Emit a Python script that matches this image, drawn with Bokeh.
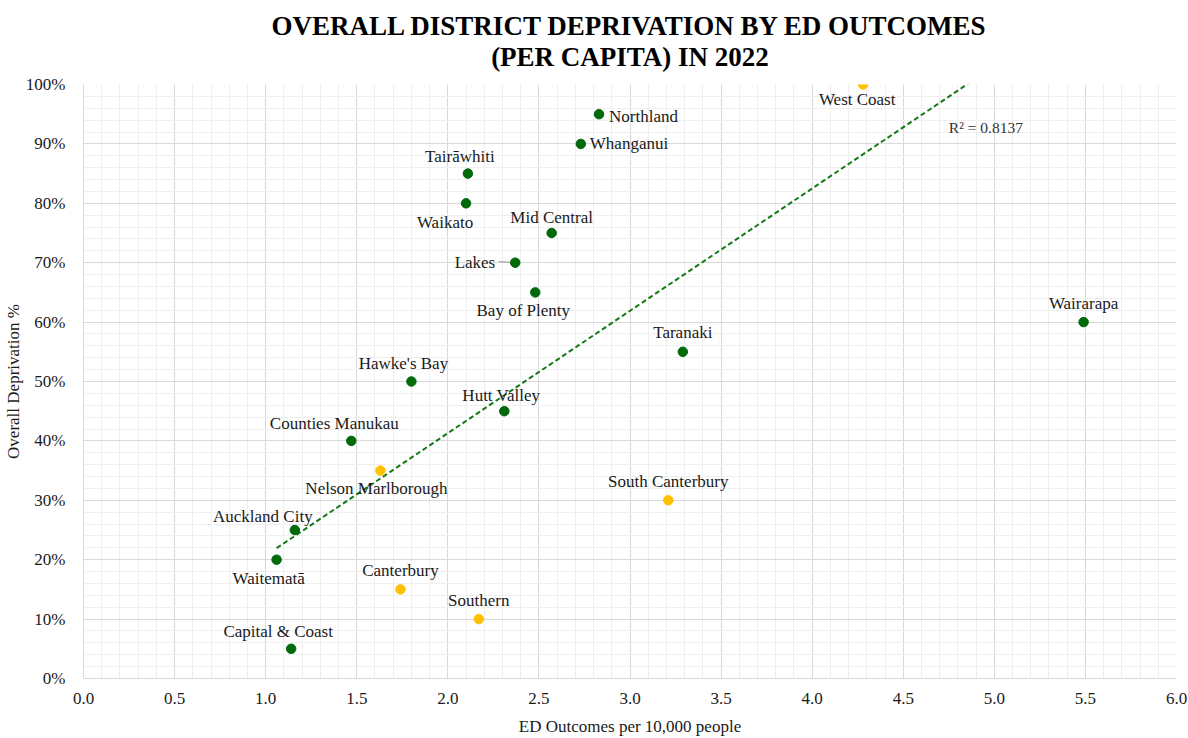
from bokeh.plotting import figure
from bokeh.models import (SingleIntervalTicker, PrintfTickFormatter, ColumnDataSource,
                          Label, Range1d, Title)
from bokeh.core.properties import value
from bokeh.embed import file_html
from bokeh.resources import INLINE

# ---------------- data ----------------
districts = ["West Coast", "Northland", "Whanganui", "Tairāwhiti", "Waikato",
             "Mid Central", "Lakes", "Bay of Plenty", "Wairarapa", "Taranaki",
             "Hawke's Bay", "Hutt Valley", "Counties Manukau", "Nelson Marlborough",
             "South Canterbury", "Auckland City", "Waitematā", "Canterbury",
             "Southern", "Capital & Coast"]
ed_outcomes = [4.28, 2.83, 2.73, 2.11, 2.10, 2.57, 2.37, 2.48, 5.49, 3.29,
               1.80, 2.31, 1.47, 1.63, 3.21, 1.16, 1.06, 1.74, 2.17, 1.14]
deprivation = [100, 95, 90, 85, 80, 75, 70, 65, 60, 55,
               50, 45, 40, 35, 30, 25, 20, 15, 10, 5]
highlighted = [True, False, False, False, False, False, False, False, False, False,
               False, False, False, True, True, False, False, True, True, False]

trend_slope = 20.6
trend_intercept = 0.1
r_squared_text = "R² = 0.8137"

title_line1 = "OVERALL DISTRICT DEPRIVATION BY ED OUTCOMES"
title_line2 = "(PER CAPITA) IN 2022"
x_title = "ED Outcomes per 10,000 people"
y_title = "Overall Deprivation %"

x_ticks_interval = 0.5
y_ticks_interval = 10

# ---------------- label placement (screen px) ----------------
label_dx = [-6, 10, 9, -8, -21, 0, -20, -12, 0, 0,
            -8, -3, -17, -4, 0, -32, -8, 0, 0, -13]
label_dy = [15, 2, 0, -17, 19, -16, 0, 18, -19, -19,
            -18, -16, -17, 18, -19, -14, 19, -19, -19, -17]
label_align = ["center", "left", "left", "center", "center", "center", "right",
               "center", "center", "center", "center", "center", "center", "center",
               "center", "center", "center", "center", "center", "center"]

GREEN = "#006a0a"
GOLD = "#FFC000"
SERIF = "Liberation Serif"
TXT = "#1a1a1a"

colors = [GOLD if h else GREEN for h in highlighted]

src = ColumnDataSource(dict(x=ed_outcomes, y=deprivation, name=districts,
                            color=colors, dx=label_dx, dy=label_dy, align=label_align))

p = figure(width=1188, height=738, output_backend="svg", toolbar_location=None,
           title=None,
           x_range=Range1d(0, 6), y_range=Range1d(0, 100),
           min_border_left=82, min_border_right=12, min_border_top=84,
           min_border_bottom=59)

t2 = Title(text=title_line2, align="center", text_font=SERIF, text_font_size="27px",
           text_font_style="bold", text_color="#000000", standoff=26)
t1 = Title(text=title_line1, align="center", text_font=SERIF, text_font_size="27px",
           text_font_style="bold", text_color="#000000", standoff=-28)
p.add_layout(t2, "above")
p.add_layout(t1, "above")

p.outline_line_color = None
p.background_fill_color = "white"
p.border_fill_color = "white"

xt = SingleIntervalTicker(interval=x_ticks_interval, num_minor_ticks=5)
yt = SingleIntervalTicker(interval=y_ticks_interval, num_minor_ticks=5)
p.xaxis.ticker = xt
p.yaxis.ticker = yt
p.xgrid.ticker = xt
p.ygrid.ticker = yt
p.xaxis.formatter = PrintfTickFormatter(format="%.1f")
p.yaxis.formatter = PrintfTickFormatter(format="%d%%")

for g in (p.xgrid, p.ygrid):
    g.grid_line_color = "#d9d9d9"
    g.grid_line_width = 1
    g.minor_grid_line_color = "#efefef"
    g.minor_grid_line_width = 1

for ax in (p.xaxis, p.yaxis):
    ax.axis_line_color = "#d9d9d9"
    ax.major_tick_line_color = None
    ax.minor_tick_line_color = None
    ax.major_label_text_font = SERIF
    ax.major_label_text_font_size = "17px"
    ax.major_label_text_color = TXT
    ax.axis_label_text_font = SERIF
    ax.axis_label_text_font_size = "17px"
    ax.axis_label_text_font_style = "normal"
    ax.axis_label_text_color = TXT

p.xaxis.axis_label = x_title
p.yaxis.axis_label = y_title
p.xaxis.major_label_standoff = 8
p.yaxis.major_label_standoff = 12
p.xaxis.axis_label_standoff = 10
p.yaxis.axis_label_standoff = 0

# trendline over data range
x0 = min(ed_outcomes)
x1 = max(ed_outcomes)
p.line([x0, x1], [trend_slope * x0 + trend_intercept, trend_slope * x1 + trend_intercept],
       line_color="#137a13", line_width=2, line_dash="5 3")

# leader line for Lakes
li = districts.index("Lakes")
p.segment(x0=[ed_outcomes[li] - 0.09], y0=[deprivation[li] + 0.2],
          x1=[ed_outcomes[li]], y1=[deprivation[li]], line_color="#999999", line_width=1)

p.scatter("x", "y", source=src, size=9.5, fill_color="color", line_color="color")

p.text("x", "y", text="name", source=src, x_offset="dx", y_offset="dy",
       text_align="align", text_baseline="middle", text_font=value(SERIF),
       text_font_size="17px", text_color=TXT)

p.add_layout(Label(x=4.75, y=92.8, text=r_squared_text, text_font=SERIF,
                   text_font_size="15.5px", text_color="#333333",
                   text_baseline="middle", text_align="left"))

open("out.html", "w").write(file_html(p, INLINE))
